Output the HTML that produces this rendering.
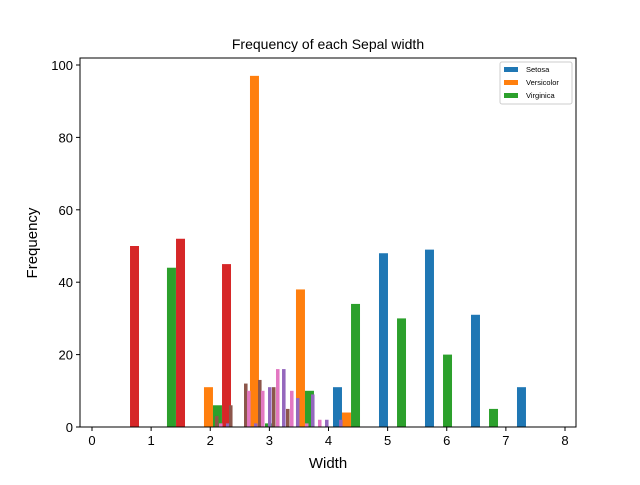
<!DOCTYPE html>
<html><head><meta charset="utf-8"><style>
body{margin:0;background:#fff;font-family:"Liberation Sans","DejaVu Sans",sans-serif}
</style></head><body>
<svg id="c" width="640" height="480"></svg>
<script>
const colors=["#1f77b4","#ff7f0e","#2ca02c","#d62728","#9467bd","#8c564b","#e377c2"];
// bars: left edge (data x), width (data x), frequency, series index
const barLeft=[4.076,4.854,5.632,6.410,7.188, 1.894,2.672,3.450,4.228, 1.268,2.046,2.926,3.602,4.381,5.159,5.937,6.715, 0.643,1.421,2.199, 2.266,2.740,2.977,3.214,3.450,3.704,3.941,4.178, 2.080,2.317,2.571,2.808,3.044,3.281, 2.148,2.622,2.858,3.112,3.349,3.602,3.822];
const barWidth=[0.152,0.152,0.152,0.152,0.152, 0.152,0.152,0.152,0.152, 0.152,0.152,0.152,0.152,0.152,0.152,0.152,0.152, 0.152,0.152,0.152, 0.06,0.06,0.06,0.06,0.06,0.06,0.06,0.06, 0.06,0.06,0.06,0.06,0.06,0.06, 0.06,0.06,0.06,0.06,0.06,0.06,0.06];
const barValue=[11,48,49,31,11, 11,97,38,4, 44,6,1,10,34,30,20,5, 50,52,45, 1,1,11,16,8,9,2,2, 3,6,12,13,11,5, 1,10,10,16,10,1,2];
const barSeries=[0,0,0,0,0, 1,1,1,1, 2,2,2,2,2,2,2,2, 3,3,3, 4,4,4,4,4,4,4,4, 5,5,5,5,5,5, 6,6,6,6,6,6,6];
const xTicks=[0,1,2,3,4,5,6,7,8];
const yTicks=[0,20,40,60,80,100];
const legendLabels=["Setosa","Versicolor","Virginica"];
const NS="http://www.w3.org/2000/svg",svg=document.getElementById('c');
const L=80,R=576,T=58,B=427;
const xs=v=>92+v*59.125, ys=v=>B-v*3.62;
function mk(t,a,p){const e=document.createElementNS(NS,t);for(const k in a)e.setAttribute(k,a[k]);(p||svg).appendChild(e);return e;}
let t=mk('text',{x:328,y:49,'text-anchor':'middle','font-size':14});t.textContent="Frequency of each Sepal width";

barLeft.forEach((l,i)=>{const x0=xs(l),x1=xs(l+barWidth[i]);
 const r=mk('rect',{x:x0,y:ys(barValue[i]),width:x1-x0,height:B-ys(barValue[i]),fill:colors[barSeries[i]]});
 });
const fr=mk('rect',{x:L,y:T,width:R-L,height:B-T,fill:'none',stroke:'#000','stroke-width':1});

xTicks.forEach(v=>{mk('line',{x1:xs(v),x2:xs(v),y1:B,y2:B+4,stroke:'#000'});
 const tx=mk('text',{x:xs(v),y:B+18,'text-anchor':'middle','font-size':13});tx.textContent=v;
 });
yTicks.forEach(v=>{mk('line',{x1:L-4,x2:L,y1:ys(v),y2:ys(v),stroke:'#000'});
 const tx=mk('text',{x:L-7,y:ys(v)+5,'text-anchor':'end','font-size':13});tx.textContent=v;
 });
t=mk('text',{x:328,y:468,'text-anchor':'middle','font-size':15});t.textContent="Width";

t=mk('text',{x:37,y:243,'text-anchor':'middle','font-size':15,transform:'rotate(-90 37 243)'});t.textContent="Frequency";

const lg=mk('g',{});
mk('rect',{x:500,y:62,width:72,height:42,rx:2,fill:'#fff',stroke:'#ccc'},lg);
legendLabels.forEach((s,i)=>{const y=69+i*13;
 const sw=mk('rect',{x:504,y:y-2,width:14,height:5,fill:colors[i]},lg);
 
 const tx=mk('text',{x:526,y:y+3,'font-size':7.5},lg);tx.textContent=s;
 });
</script></body></html>
